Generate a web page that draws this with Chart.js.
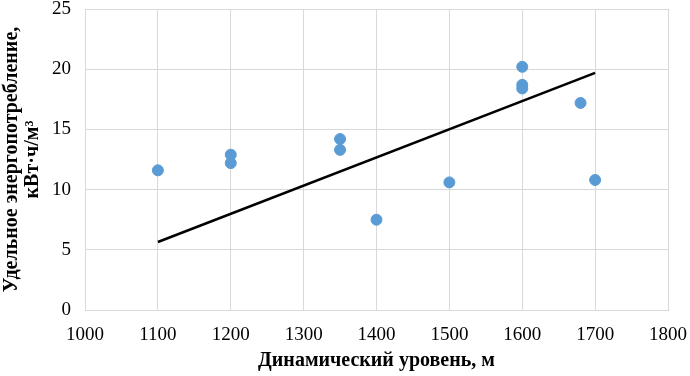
<!DOCTYPE html>
<html lang="ru">
<head>
    <meta charset="UTF-8">
    <title>Удельное энергопотребление</title>
    <script src="https://cdn.jsdelivr.net/npm/chart.js"></script>
    <style>
        html, body {
            margin: 0;
            padding: 0;
            background: #ffffff;
        }
        #wrap {
            width: 690px;
            height: 376px;
        }
    </style>
</head>
<body>
    <div id="wrap"><canvas id="chart"></canvas></div>
    <script>
        // measured points
        const levelX = [1100, 1200, 1200, 1350, 1350, 1400, 1500, 1600, 1600, 1600, 1680, 1700];
        const energyY = [11.6, 12.9, 12.2, 14.2, 13.3, 7.5, 10.6, 20.2, 18.7, 18.4, 17.2, 10.8];

        // trend line ends
        const trendX = [1100, 1700];
        const trendY = [5.65, 19.7];

        const xTitle = 'Динамический уровень, м';
        const yTitle = ['Удельное энергопотребление,', 'кВт·ч/м³'];

        const serif = '"Liberation Serif", "Times New Roman", serif';

        new Chart(document.getElementById('chart'), {
            type: 'scatter',
            data: {
                datasets: [{
                    data: levelX.map((x, i) => ({ x: x, y: energyY[i] })),
                    backgroundColor: '#5B9BD5',
                    borderColor: '#5B9BD5',
                    pointRadius: 5.5,
                    order: 2
                }, {
                    type: 'line',
                    data: trendX.map((x, i) => ({ x: x, y: trendY[i] })),
                    borderColor: '#000000',
                    borderWidth: 2.5,
                    pointRadius: 0,
                    fill: false,
                    order: 1
                }]
            },
            options: {
                responsive: true,
                maintainAspectRatio: false,
                animation: false,
                layout: { padding: { top: 9, right: 22, left: 0, bottom: 0 } },
                plugins: {
                    legend: { display: false },
                    tooltip: { enabled: false }
                },
                scales: {
                    x: {
                        type: 'linear',
                        min: 1000,
                        max: 1800,
                        ticks: {
                            stepSize: 100,
                            padding: 14,
                            color: '#000',
                            font: { family: serif, size: 19 },
                            callback: v => String(v)
                        },
                        grid: { color: '#d9d9d9', drawTicks: false },
                        border: { color: '#d9d9d9' },
                        title: {
                            display: true,
                            text: xTitle,
                            color: '#000',
                            padding: { top: 6, bottom: 3 },
                            font: { family: serif, size: 20, weight: 'bold' }
                        },
                        afterFit: s => {
                            s.height = 66;
                            s.paddingLeft = 0;
                            s.paddingRight = 0;
                        }
                    },
                    y: {
                        min: 0,
                        max: 25,
                        ticks: {
                            stepSize: 5,
                            padding: 14,
                            color: '#000',
                            font: { family: serif, size: 19 }
                        },
                        grid: { color: '#d9d9d9', drawTicks: false },
                        border: { color: '#d9d9d9' },
                        title: {
                            display: true,
                            text: yTitle,
                            color: '#000',
                            padding: { top: 1.5, bottom: 0 },
                            font: { family: serif, size: 20, weight: 'bold', lineHeight: 1.05 }
                        },
                        afterFit: s => {
                            s.width = 85;
                            s.paddingTop = 0;
                            s.paddingBottom = 0;
                        }
                    }
                }
            }
        });
    </script>
</body>
</html>
